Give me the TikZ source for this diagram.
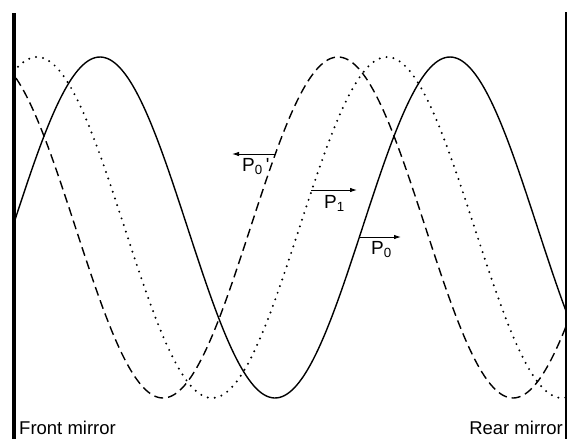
\documentclass[tikz,border=0pt]{standalone}
\usepackage{fontspec}
\setmainfont{Liberation Sans}
\usepackage{tikz}
\usetikzlibrary{arrows.meta}
\tikzset{
    % Mirror styles
    frontmirror/.style={
        fill=black
    },
    rearmirror/.style={
        draw=black,
        line width=1.8pt
    },
    % Wave styles
    wavebase/.style={
        draw=black,
        line width=1.4pt,
        smooth
    },
    solidwave/.style={
        wavebase
    },
    dashedwave/.style={
        wavebase,
        dash pattern=on 9pt off 5pt
    },
    dottedwave/.style={
        wavebase,
        line width=2.2pt,
        line cap=round,
        dash pattern=on 0pt off 7pt
    },
    % Arrow style
    myarrow/.style={
        -{Latex[length=7pt,width=4.5pt]},
        line width=0.9pt,
        draw=black
    },
    % Label styles
    labelnode/.style={
        inner sep=0pt,
        font=\fontsize{19}{22}\selectfont
    },
    mirrorlabel/.style={
        labelnode,
        font=\fontsize{18.5}{22}\selectfont
    }
}
\begin{document}
\begin{tikzpicture}[x=1pt, y=-1pt]
        \useasboundingbox (0,0) rectangle (568,439);

        % Mirrors
        \fill[frontmirror] (12,13) rectangle (16,439);
        \draw[rearmirror] (566,12) -- (566,439);

        % Waves
        \draw[solidwave] plot[domain=15:566, samples=220]
            (\x, {227.5-170.5*sin((\x-12.5)/350*360)});
        \draw[dashedwave] plot[domain=16:566, samples=220]
            (\x, {227.5+170.5*cos((\x-163)/350*360)});
        \draw[dottedwave] plot[domain=18:566, samples=220]
            (\x, {227.5-170.5*cos((\x-37)/350*360)});

        % Arrow ends
        \coordinate (p0ds) at (276,154);
        \coordinate (p0de) at (232,154);
        \coordinate (p1s) at (311,190);
        \coordinate (p1e) at (357,190);
        \coordinate (p0s) at (360,237);
        \coordinate (p0e) at (401,237);

        % Arrows
        \draw[myarrow] (p0ds) -- (p0de);
        \draw[myarrow] (p1s) -- (p1e);
        \draw[myarrow] (p0s) -- (p0e);

        % Labels
        \node[labelnode, anchor=base west] (p0dlabel) at (242,171) {P\textsubscript{0}\,\textquotesingle};
        \node[labelnode, anchor=base west] (p1label) at (324,208) {P\textsubscript{1}};
        \node[labelnode, anchor=base west] (p0label) at (371,254) {P\textsubscript{0}};
        \node[mirrorlabel, anchor=base west] (frontlabel) at (19,434) {Front mirror};
        \node[mirrorlabel, anchor=base east] (rearlabel) at (563,434) {Rear mirror};
    \end{tikzpicture}
\end{document}
